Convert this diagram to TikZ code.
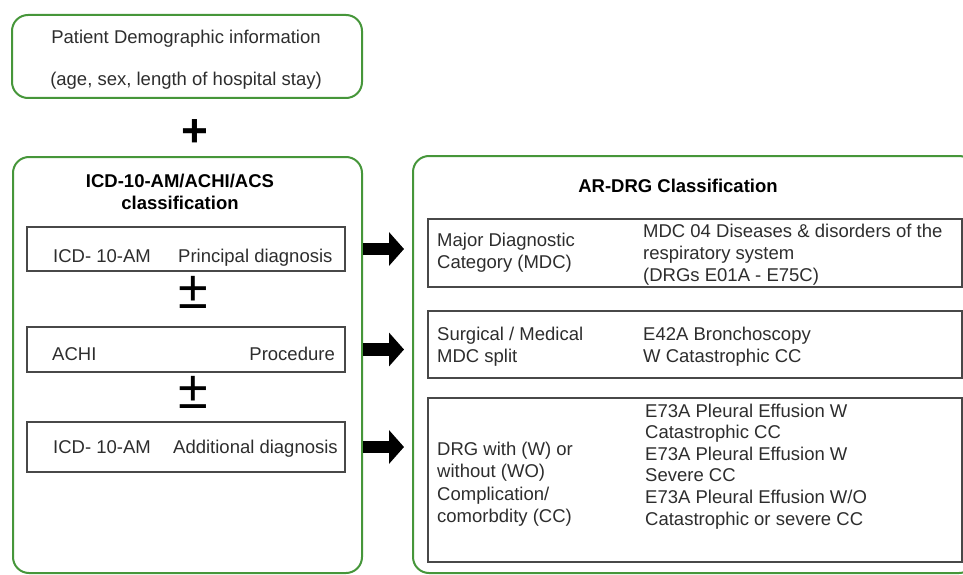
\documentclass[tikz,border=0pt]{standalone}
\usepackage{fontspec}
\setmainfont{Liberation Sans}
\usetikzlibrary{positioning, arrows.meta}

\definecolor{boxgreen}{RGB}{70,150,58}
\definecolor{boxgray}{RGB}{72,72,72}
\definecolor{txtgray}{RGB}{45,45,45}

\begin{document}
\begin{tikzpicture}[x=1pt, y=-1pt,
    groupbox/.style={draw=boxgreen, line width=2pt, rounded corners=16pt},
    itembox/.style={draw=boxgray, line width=1.6pt},
    lbl/.style={inner sep=0pt, text=txtgray, font=\fontsize{18.5}{22.5}\selectfont, align=left},
    headline/.style={inner sep=0pt, text=black, font=\fontsize{18.5}{21.5}\selectfont\bfseries, align=center},
    pmsign/.style={inner sep=0pt, text=black, font=\fontsize{54}{54}\selectfont},
    blockarrow/.style={line width=12.5pt, -{Triangle[width=33pt, length=15pt]}, shorten >=8pt}
]
    % Bildrahmen
    \clip (0,0) rectangle (963,575);

    % Patient demographics
    \node[groupbox, minimum width=350pt, minimum height=83pt] (demo) at (187,56.5) {};
    \node[lbl, anchor=base] (demotop) at (186,44) {Patient Demographic information};
    \node[lbl, anchor=base] (demobot) at (186,86) {(age, sex, length of hospital stay)};

    \node[inner sep=0pt, font=\fontsize{46}{46}\selectfont\bfseries] (plus) at (195,133) {+};

    % ICD-10-AM / ACHI / ACS  (base = letzte Zeile)
    \node[groupbox, minimum width=349pt, minimum height=416pt] (icd) at (187.5,365) {};
    \node[headline, anchor=base] (icdtitle) at (180,209) {ICD-10-AM/ACHI/ACS\\classification};

    \node[itembox, minimum width=318pt, minimum height=44pt] (pdx) at (186,249) {};
    \node[lbl, anchor=base west] (pdxcode) at (53,262) {ICD- 10-AM};
    \node[lbl, anchor=base west] (pdxname) at (178,262) {Principal diagnosis};

    \node[pmsign] (pmone) at (193,292) {±};

    \node[itembox, minimum width=318pt, minimum height=45pt] (proc) at (186,349.5) {};
    \node[lbl, anchor=base west] (proccode) at (52,360) {ACHI};
    \node[lbl, anchor=base east] (procname) at (335,360) {Procedure};

    \node[pmsign] (pmtwo) at (193,392) {±};

    \node[itembox, minimum width=318pt, minimum height=50pt] (adx) at (186,447) {};
    \node[lbl, anchor=base west] (adxcode) at (53,453) {ICD- 10-AM};
    \node[lbl, anchor=base west] (adxname) at (173,453) {Additional diagnosis};

    % AR-DRG
    \node[groupbox, minimum width=562pt, minimum height=417pt] (drg) at (694,364.5) {};
    \node[headline, anchor=base] (drgtitle) at (678,192) {AR-DRG Classification};

    \node[itembox, minimum width=534pt, minimum height=68pt] (mdc) at (695,253) {};
    \node[lbl, anchor=base west] (mdcname) at (437,268.5) {Major Diagnostic\\Category (MDC)};
    \node[lbl, anchor=base west, font=\fontsize{18.5}{22}\selectfont] (mdcval) at (643,281) {MDC 04 Diseases \& disorders of the\\respiratory system\\(DRGs E01A - E75C)};

    \node[itembox, minimum width=534pt, minimum height=67pt] (split) at (695,344.5) {};
    \node[lbl, anchor=base west] (splitname) at (437,362.5) {Surgical / Medical\\MDC split};
    \node[lbl, anchor=base west] (splitval) at (643,362.5) {E42A Bronchoscopy\\W Catastrophic CC};

    \node[itembox, minimum width=534pt, minimum height=164pt] (cc) at (695,480) {};
    \node[lbl, anchor=base west] (ccname) at (437,522.5) {DRG with (W) or\\without (WO)\\Complication/\\comorbdity (CC)};
    \node[lbl, anchor=base west, font=\fontsize{18.5}{21.6}\selectfont] (ccval) at (645,525) {E73A Pleural Effusion W\\Catastrophic CC\\E73A Pleural Effusion W\\Severe CC\\E73A Pleural Effusion W/O\\Catastrophic or severe CC};

    % Pfeile
    \draw[blockarrow] (pdx.east -| icd.east) -- (pdx.east -| drg.west);
    \draw[blockarrow] (proc.east -| icd.east) -- (proc.east -| drg.west);
    \draw[blockarrow] (adx.east -| icd.east) -- (adx.east -| drg.west);

\end{tikzpicture}
\end{document}
